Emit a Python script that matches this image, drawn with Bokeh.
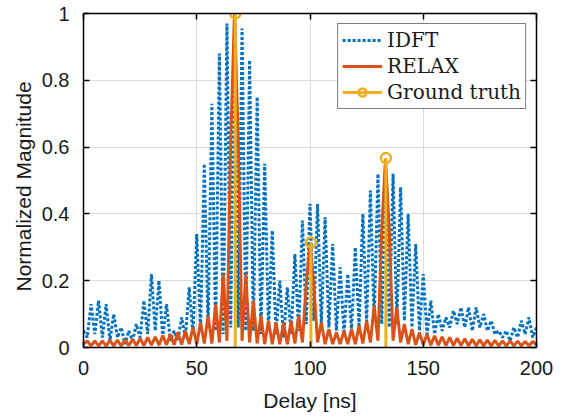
import numpy as np
from bokeh.plotting import figure
from bokeh.models import Range1d, LinearAxis, FixedTicker, Legend, LegendItem, Title
from bokeh.embed import file_html
from bokeh.resources import INLINE

# ---------------- data ----------------
x_ticks = [0, 50, 100, 150, 200]
y_ticks = [0, 0.2, 0.4, 0.6, 0.8, 1]

# IDFT: local maxima every 10/3 ns (0 ... 200 ns)
idft_peaks = [0.05, 0.13, 0.14, 0.13, 0.10, 0.06, 0.05, 0.07, 0.14, 0.22,
              0.20, 0.13, 0.05, 0.09, 0.18, 0.34, 0.55, 0.73, 0.88, 0.97,
              0.99, 0.955, 0.86, 0.75, 0.55, 0.35, 0.20, 0.18, 0.28, 0.38,
              0.43, 0.43, 0.39, 0.31, 0.24, 0.22, 0.30, 0.40, 0.47, 0.52,
              0.55, 0.52, 0.48, 0.40, 0.31, 0.22, 0.14, 0.10, 0.09, 0.11,
              0.12, 0.12, 0.12, 0.10, 0.08, 0.05, 0.05, 0.06, 0.08, 0.09,
              0.06]
# IDFT: local minima between the maxima
idft_troughs = [0.03, 0.04, 0.03, 0.02, 0.03, 0.01, 0.02, 0.03, 0.04, 0.05,
                0.03, 0.02, 0.02, 0.03, 0.04, 0.05, 0.06, 0.05, 0.04, 0.06,
                0.06, 0.05, 0.05, 0.04, 0.05, 0.04, 0.03, 0.04, 0.05, 0.07,
                0.08, 0.07, 0.06, 0.05, 0.04, 0.05, 0.06, 0.07, 0.08, 0.07,
                0.06, 0.07, 0.08, 0.06, 0.05, 0.04, 0.04, 0.05, 0.06, 0.07,
                0.06, 0.05, 0.06, 0.05, 0.04, 0.03, 0.02, 0.03, 0.04, 0.03]

# RELAX: samples every 5/3 ns (0 ... 200 ns)
relax_values = [0.010, 0.020, 0.005, 0.020, 0.005, 0.020, 0.005, 0.021, 0.005, 0.022,
                0.005, 0.023, 0.006, 0.025, 0.006, 0.027, 0.006, 0.030, 0.007, 0.032,
                0.007, 0.036, 0.008, 0.040, 0.008, 0.045, 0.009, 0.050, 0.010, 0.060,
                0.010, 0.075, 0.012, 0.095, 0.012, 0.130, 0.015, 0.220, 0.020, 0.620,
                1.000, 0.620, 0.020, 0.220, 0.015, 0.140, 0.012, 0.095, 0.010, 0.080,
                0.010, 0.075, 0.010, 0.075, 0.010, 0.080, 0.012, 0.095, 0.015, 0.190,
                0.310, 0.190, 0.015, 0.075, 0.010, 0.055, 0.010, 0.045, 0.010, 0.050,
                0.010, 0.055, 0.010, 0.065, 0.012, 0.080, 0.015, 0.125, 0.020, 0.350,
                0.565, 0.350, 0.020, 0.120, 0.015, 0.070, 0.010, 0.055, 0.008, 0.045,
                0.008, 0.040, 0.007, 0.035, 0.007, 0.032, 0.006, 0.030, 0.006, 0.028,
                0.006, 0.026, 0.005, 0.025, 0.005, 0.023, 0.005, 0.022, 0.005, 0.021,
                0.005, 0.020, 0.005, 0.020, 0.005, 0.019, 0.005, 0.018, 0.005, 0.018,
                0.008]

gt_delay = [67.0, 100.4, 133.5]
gt_value = [1.0, 0.314, 0.567]

# ---------------- assemble ----------------
idft_delay = np.linspace(0, 200, len(idft_peaks) + len(idft_troughs))
idft_values = np.empty(len(idft_delay))
idft_values[0::2] = idft_peaks
idft_values[1::2] = idft_troughs
relax_delay = np.linspace(0, 200, len(relax_values))

BLUE = "#0072BD"
ORANGE = "#D95319"
YELLOW = "#EDB120"
TXT = "#1a1a1a"
FONT = "Liberation Sans"

p = figure(width=562, height=418, output_backend="svg", toolbar_location=None,
           x_range=Range1d(0, 200), y_range=Range1d(0, 1),
           min_border_left=83, min_border_right=26, min_border_top=13,
           min_border_bottom=71)
p.outline_line_color = None
p.background_fill_color = "white"

r_idft = p.line(idft_delay, idft_values, line_color=BLUE, line_width=3,
                line_dash="3 2")
r_relax = p.line(relax_delay, relax_values, line_color=ORANGE, line_width=3)
r_stem = p.segment(x0=gt_delay, y0=[0] * len(gt_delay), x1=gt_delay, y1=gt_value,
                   line_color=YELLOW, line_width=3)
r_mark = p.scatter(gt_delay, gt_value, marker="circle", size=10,
                   line_color=YELLOW, line_width=2.5, fill_color=None)

# axes
for ax in (p.xaxis[0], p.yaxis[0]):
    ax.axis_line_color = "black"
    ax.axis_line_width = 1.5
    ax.major_tick_in = 6
    ax.major_tick_out = 0
    ax.minor_tick_line_color = None
    ax.major_tick_line_color = "black"
    ax.major_tick_line_width = 1.5
    ax.major_label_text_font = FONT
    ax.major_label_text_font_size = "20px"
    ax.major_label_text_color = TXT
    ax.axis_label_text_font = FONT
    ax.axis_label_text_font_size = "21px"
    ax.axis_label_text_font_style = "normal"
    ax.axis_label_text_color = TXT

p.xaxis.ticker = FixedTicker(ticks=x_ticks)
p.yaxis.ticker = FixedTicker(ticks=y_ticks)
p.yaxis.major_label_overrides = {0: "0", 1: "1"}
p.xaxis.axis_label = "Delay [ns]"
p.xaxis.major_label_standoff = 13
p.yaxis.major_label_standoff = 14
p.xaxis.axis_label_standoff = 11

# y label as a side title so it can sit where the reference puts it
ytitle = Title(text="Normalized Magnitude", align="left", offset=56,
               text_font=FONT, text_font_size="21px", text_font_style="normal",
               text_color=TXT, standoff=8)
p.add_layout(ytitle, "left")

for loc, ticks in (("above", x_ticks), ("right", y_ticks)):
    ax = LinearAxis(ticker=FixedTicker(ticks=ticks))
    ax.axis_line_color = "black"
    ax.axis_line_width = 1.5
    ax.major_tick_in = 6
    ax.major_tick_out = 0
    ax.minor_tick_line_color = None
    ax.major_tick_line_color = "black"
    ax.major_tick_line_width = 1.5
    ax.major_label_overrides = {t: "" for t in ticks}
    ax.major_label_text_font_size = "1px"
    ax.major_label_standoff = 0
    p.add_layout(ax, loc)

p.xgrid.ticker = FixedTicker(ticks=x_ticks)
p.ygrid.ticker = FixedTicker(ticks=y_ticks)
for g in (p.xgrid[0], p.ygrid[0]):
    g.grid_line_color = "#dcdcdc"
    g.grid_line_width = 1

legend = Legend(items=[
    LegendItem(label="IDFT", renderers=[r_idft]),
    LegendItem(label="RELAX", renderers=[r_relax]),
    LegendItem(label="Ground truth", renderers=[r_stem, r_mark]),
], location="top_right")
legend.label_text_font = "DejaVu Serif"
legend.label_text_font_size = "20px"
legend.label_text_color = TXT
legend.glyph_width = 40
legend.glyph_height = 20
legend.label_standoff = 5
legend.spacing = 2
legend.padding = 4
legend.margin = 10
legend.border_line_color = "black"
legend.border_line_width = 1
legend.background_fill_color = "white"
legend.background_fill_alpha = 1
p.add_layout(legend, "center")

open("out.html", "w").write(file_html(p, INLINE))
